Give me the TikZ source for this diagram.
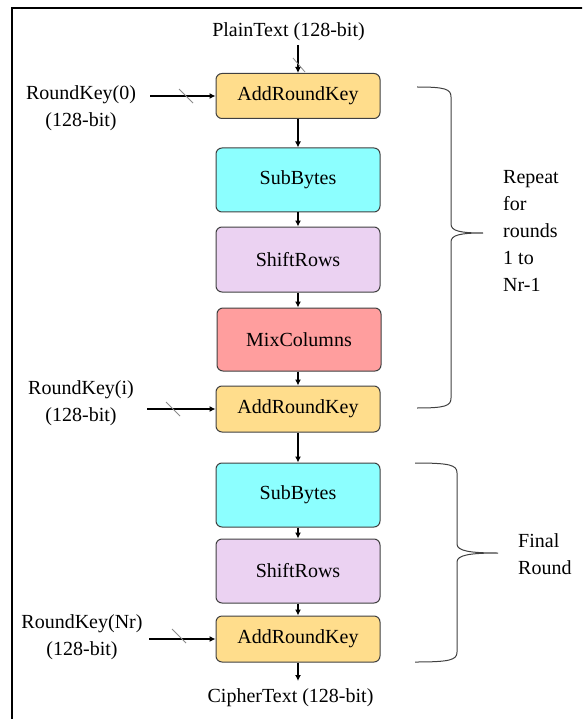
\documentclass[tikz,border=0pt]{standalone}
\usepackage{fontspec}
\newfontfamily\timesfont{Liberation Serif}
\usetikzlibrary{arrows.meta,calc}
\definecolor{arkfill}{HTML}{FFDD8C}
\definecolor{sbfill}{HTML}{8CFFFF}
\definecolor{srfill}{HTML}{EBD2F2}
\definecolor{mcfill}{HTML}{FF9E9E}
\definecolor{boxline}{HTML}{404040}
\definecolor{slashgray}{HTML}{8A8A8A}
\begin{document}
\begin{tikzpicture}[x=1pt,y=-1pt,
  every node/.style={font=\timesfont\fontsize{20}{27}\selectfont, inner sep=1pt},
  stage/.style={draw=boxline, line width=1pt, rounded corners=6pt,
    minimum width=164pt, anchor=center},
  arr/.style={line width=2pt, -{Latex[length=6pt,width=6pt]}},
  slashmark/.style={draw=slashgray, line width=0.8pt},
  bracepath/.style={draw=black!75, line width=1pt},
  lbl/.style={align=center},
  side/.style={align=left, anchor=west}]
  \useasboundingbox (0,0) rectangle (582,719);
  \begin{scope}
    \clip (0,0) rectangle (582,719);
    % outer frame (only the top and left edges fall inside the page)
    \draw[line width=2pt] (12,730) -- (12,8.5) -- (600,8.5);
  \end{scope}

  % processing stages
  \node[stage, fill=arkfill, minimum height=45pt] (ark1) at (298,96)   {AddRoundKey};
  \node[stage, fill=sbfill,  minimum height=64pt] (sb1)  at (298,180)  {SubBytes};
  \node[stage, fill=srfill,  minimum height=65pt] (sr1)  at (298,259.5){ShiftRows};
  \node[stage, fill=mcfill,  minimum height=63pt] (mc)   at (299,339.5){MixColumns};
  \node[stage, fill=arkfill, minimum height=46pt] (ark2) at (298,409)  {AddRoundKey};
  \node[stage, fill=sbfill,  minimum height=64pt] (sb2)  at (298,495)  {SubBytes};
  \node[stage, fill=srfill,  minimum height=64pt] (sr2)  at (298,571)  {ShiftRows};
  \node[stage, fill=arkfill, minimum height=46pt] (ark3) at (298,639)  {AddRoundKey};

  % input and output texts
  \node (pt) at (288.5,32) {PlainText (128-bit)};
  \node (ct) at (290.5,698) {CipherText (128-bit)};

  % round keys
  \node[lbl] (k0) at (81,108.5) {RoundKey(0)\\(128-bit)};
  \node[lbl] (ki) at (81,403) {RoundKey(i)\\(128-bit)};
  \node[lbl] (kn) at (82,637.5) {RoundKey(Nr)\\(128-bit)};

  \coordinate (k0out) at (150,96);
  \coordinate (kiout) at (147,409);
  \coordinate (knout) at (149,639);
  \coordinate (ptin) at (298,45);
  \coordinate (ctout) at (298,681);

  % data path
  \draw[arr] (ptin) -- (ark1.north);
  \draw[arr] (ark1) -- (sb1);
  \draw[arr] (sb1) -- (sr1);
  \draw[arr] (sr1) -- (sr1 |- mc.north);
  \draw[arr] (sr1 |- mc.south) -- (ark2);
  \draw[arr] (ark2) -- (sb2);
  \draw[arr] (sb2) -- (sr2);
  \draw[arr] (sr2) -- (ark3);
  \draw[arr] (ark3) -- (ctout);

  % key inputs
  \draw[arr] (k0out) -- (ark1.west);
  \draw[arr] (kiout) -- (ark2.west);
  \draw[arr] (knout) -- (ark3.west);

  % bus-width slashes
  \draw[slashmark] (299,65) ++(-6,-7) -- ++(12,14);
  \draw[slashmark] (186,96) ++(-7,-7) -- ++(14,14);
  \draw[slashmark] (173,409) ++(-7,-7) -- ++(14,14);
  \draw[slashmark] (179,636) ++(-7,-7) -- ++(14,14);

  % braces
  \draw[bracepath] (417,87) .. controls (445,87) and (451,89) .. (451,97)
    -- (451,224) .. controls (451,231) and (460,233) .. (483,233)
    .. controls (460,233) and (451,235) .. (451,242)
    -- (451,398) .. controls (451,406) and (445,408) .. (417,408);
  \draw[bracepath] (415,463) .. controls (450,463) and (457,465) .. (457,473)
    -- (457,544) .. controls (457,551) and (470,553) .. (498,553)
    .. controls (470,553) and (457,555) .. (457,562)
    -- (457,652) .. controls (457,660) and (450,662) .. (415,662);

  \node[side] (rep) at (502,231) {Repeat\\for\\rounds\\1 to\\Nr-1};
  \node[side] (fin) at (517,554) {Final\\Round};
\end{tikzpicture}
\end{document}
